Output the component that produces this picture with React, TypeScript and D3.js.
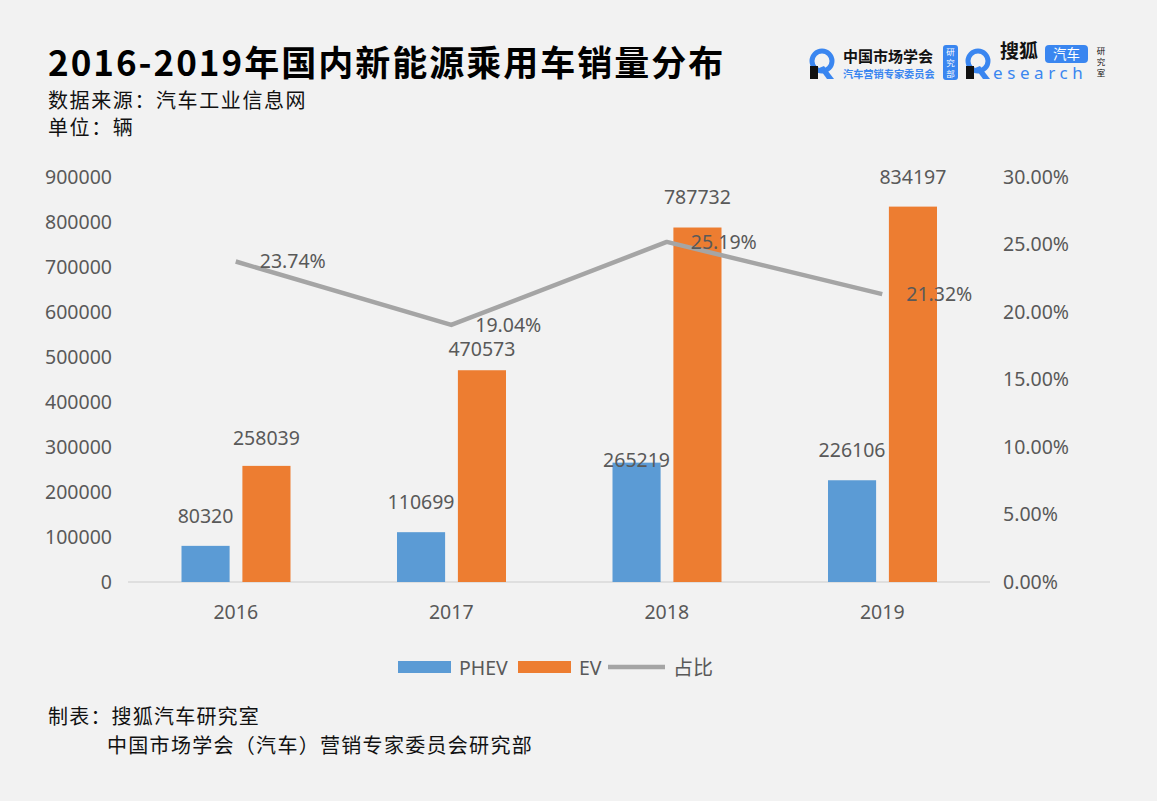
import React from "react";
import * as d3 from "d3";

const years = ["2016", "2017", "2018", "2019"];
const phev = [80320, 110699, 265219, 226106];
const ev = [258039, 470573, 787732, 834197];
const share = [23.74, 19.04, 25.19, 21.32];
const leftTicks = [0, 100000, 200000, 300000, 400000, 500000, 600000, 700000, 800000, 900000];
const rightTicks = [0, 5, 10, 15, 20, 25, 30];
const seriesNames = ["PHEV", "EV"];
const phevLift = [30, 30, 2, 30];
const evLift = [28, 21, 30, 29];

const W = 1157, H = 801;
const BLUE = "#5b9bd5", ORANGE = "#ed7d31", GRAY = "#a5a5a5", TXT = "#595959";
const NUM = "'Noto Sans', 'DejaVu Sans', sans-serif";
const CJK = "'Noto Sans CJK SC', 'Noto Sans', sans-serif";

export default function App() {
  const x0 = d3.scaleBand<string>().domain(years).range([128, 990]).paddingInner(0).paddingOuter(0);
  const x1 = d3.scaleBand<string>().domain(seriesNames).range([53.5, 162.5]).paddingInner(0.21);
  const yL = d3.scaleLinear().domain([0, 900000]).range([582, 177]);
  const yR = d3.scaleLinear().domain([0, 30]).range([582, 177]);
  const cx = (y: string) => (x0(y) as number) + x0.bandwidth() / 2;
  const line = d3.line<number>().x((_, i) => cx(years[i])).y((d) => yR(d));

  return (
    <svg width={W} height={H} style={{ position: "absolute", left: 0, top: 0, background: "#f2f2f2" }}>
      <rect x={0} y={0} width={W} height={H} fill="#f2f2f2" />
      {/* Title block */}
      <text x={48} y={76} fontFamily={CJK} fontWeight={700} fontSize={35} fill="#000" letterSpacing={2}>
        2016-2019年国内新能源乘用车销量分布
      </text>
      <text x={48} y={108} fontFamily={CJK} fontSize={20} fill="#111" letterSpacing={1.6}>数据来源：汽车工业信息网</text>
      <text x={48} y={135} fontFamily={CJK} fontSize={20} fill="#111" letterSpacing={1.6}>单位：辆</text>

      {/* Logos */}
      <g>
        <circle cx={822} cy={61} r={10} fill="none" stroke="#3a86f0" strokeWidth={5} />
        <rect x={810} y={66} width={8} height={13} fill="#111" />
        <path d="M824,66 L834,79 L827,79 L819,68 Z" fill="#3a86f0" />
        <text x={843} y={62} fontFamily={CJK} fontWeight={700} fontSize={15} fill="#111">中国市场学会</text>
        <text x={843} y={78} fontFamily={CJK} fontSize={10.2} fill="#3a86f0" fontWeight={700}>汽车营销专家委员会</text>
        <rect x={943} y={45} width={15} height={35} rx={3} fill="#3a86f0" />
        {["研", "究", "部"].map((c, i) => (
          <text key={c} x={950.5} y={54.5 + i * 11} textAnchor="middle" fontFamily={CJK} fontSize={8.5} fill="#fff">{c}</text>
        ))}
        <circle cx={978} cy={61} r={10} fill="none" stroke="#3a86f0" strokeWidth={5} />
        <rect x={966} y={66} width={8} height={13} fill="#111" />
        <path d="M980,66 L990,79 L983,79 L975,68 Z" fill="#3a86f0" />
        <text x={1000} y={58} fontFamily={CJK} fontWeight={700} fontSize={19} fill="#111">搜狐</text>
        <rect x={1045} y={45} width={43} height={18} rx={4} fill="#3a86f0" />
        <text x={1066.5} y={58.5} textAnchor="middle" fontFamily={CJK} fontSize={13.5} fill="#fff">汽车</text>
        <text x={993} y={79} fontFamily={NUM} fontSize={17} fill="#3a86f0" letterSpacing={4.6}>esearch</text>
        {["研", "究", "室"].map((c, i) => (
          <text key={c} x={1101} y={54 + i * 11} textAnchor="middle" fontFamily={CJK} fontSize={8.5} fill="#111">{c}</text>
        ))}
      </g>

      {/* Axis ticks */}
      {leftTicks.map((t) => (
        <text key={t} x={112} y={yL(t)} dy="0.35em" textAnchor="end" fontFamily={NUM} fontSize={19.5} fill={TXT}>{t}</text>
      ))}
      {rightTicks.map((t) => (
        <text key={t} x={1003} y={yR(t)} dy="0.35em" fontFamily={NUM} fontSize={19.5} fill={TXT}>{t.toFixed(2)}%</text>
      ))}
      <line x1={128} x2={990} y1={yL(0)} y2={yL(0)} stroke="#d9d9d9" strokeWidth={1.5} />
      {years.map((y) => (
        <text key={y} x={cx(y)} y={612} dy="0.35em" textAnchor="middle" fontFamily={NUM} fontSize={19.5} fill={TXT}>{y}</text>
      ))}

      {/* Bars */}
      {years.map((y, i) => {
        const bx = x0(y) as number;
        const px = bx + (x1("PHEV") as number);
        const ex = bx + (x1("EV") as number);
        const bw = x1.bandwidth();
        return (
          <g key={y}>
            <rect x={px} y={yL(phev[i])} width={bw} height={yL(0) - yL(phev[i])} fill={BLUE} />
            <rect x={ex} y={yL(ev[i])} width={bw} height={yL(0) - yL(ev[i])} fill={ORANGE} />
            <text x={px + bw / 2} y={yL(phev[i]) - phevLift[i]} dy="0.35em" textAnchor="middle" fontFamily={NUM} fontSize={19.5} fill={TXT}>{phev[i]}</text>
            <text x={ex + bw / 2} y={yL(ev[i]) - evLift[i]} dy="0.35em" textAnchor="middle" fontFamily={NUM} fontSize={19.5} fill={TXT}>{ev[i]}</text>
          </g>
        );
      })}

      {/* Line */}
      <path d={line(share) || ""} fill="none" stroke={GRAY} strokeWidth={4.5} strokeLinejoin="round" />
      {share.map((s, i) => (
        <text key={i} x={cx(years[i]) + 24} y={yR(s)} dy="0.35em" fontFamily={NUM} fontSize={19.5} fill={TXT}>{s.toFixed(2)}%</text>
      ))}

      {/* Legend */}
      <rect x={398} y={661} width={53} height={12} fill={BLUE} />
      <text x={459} y={668} dy="0.35em" fontFamily={NUM} fontSize={19.5} fill={TXT}>PHEV</text>
      <rect x={518} y={661} width={53} height={12} fill={ORANGE} />
      <text x={579} y={668} dy="0.35em" fontFamily={NUM} fontSize={19.5} fill={TXT}>EV</text>
      <line x1={608} x2={665} y1={667} y2={667} stroke={GRAY} strokeWidth={4.5} />
      <text x={673} y={668} dy="0.35em" fontFamily={CJK} fontSize={20} fill={TXT}>占比</text>

      {/* Footer */}
      <text x={48} y={724} fontFamily={CJK} fontSize={20} fill="#111" letterSpacing={1.2}>制表：搜狐汽车研究室</text>
      <text x={107} y={753} fontFamily={CJK} fontSize={20} fill="#111" letterSpacing={1.3}>中国市场学会（汽车）营销专家委员会研究部</text>
    </svg>
  );
}
